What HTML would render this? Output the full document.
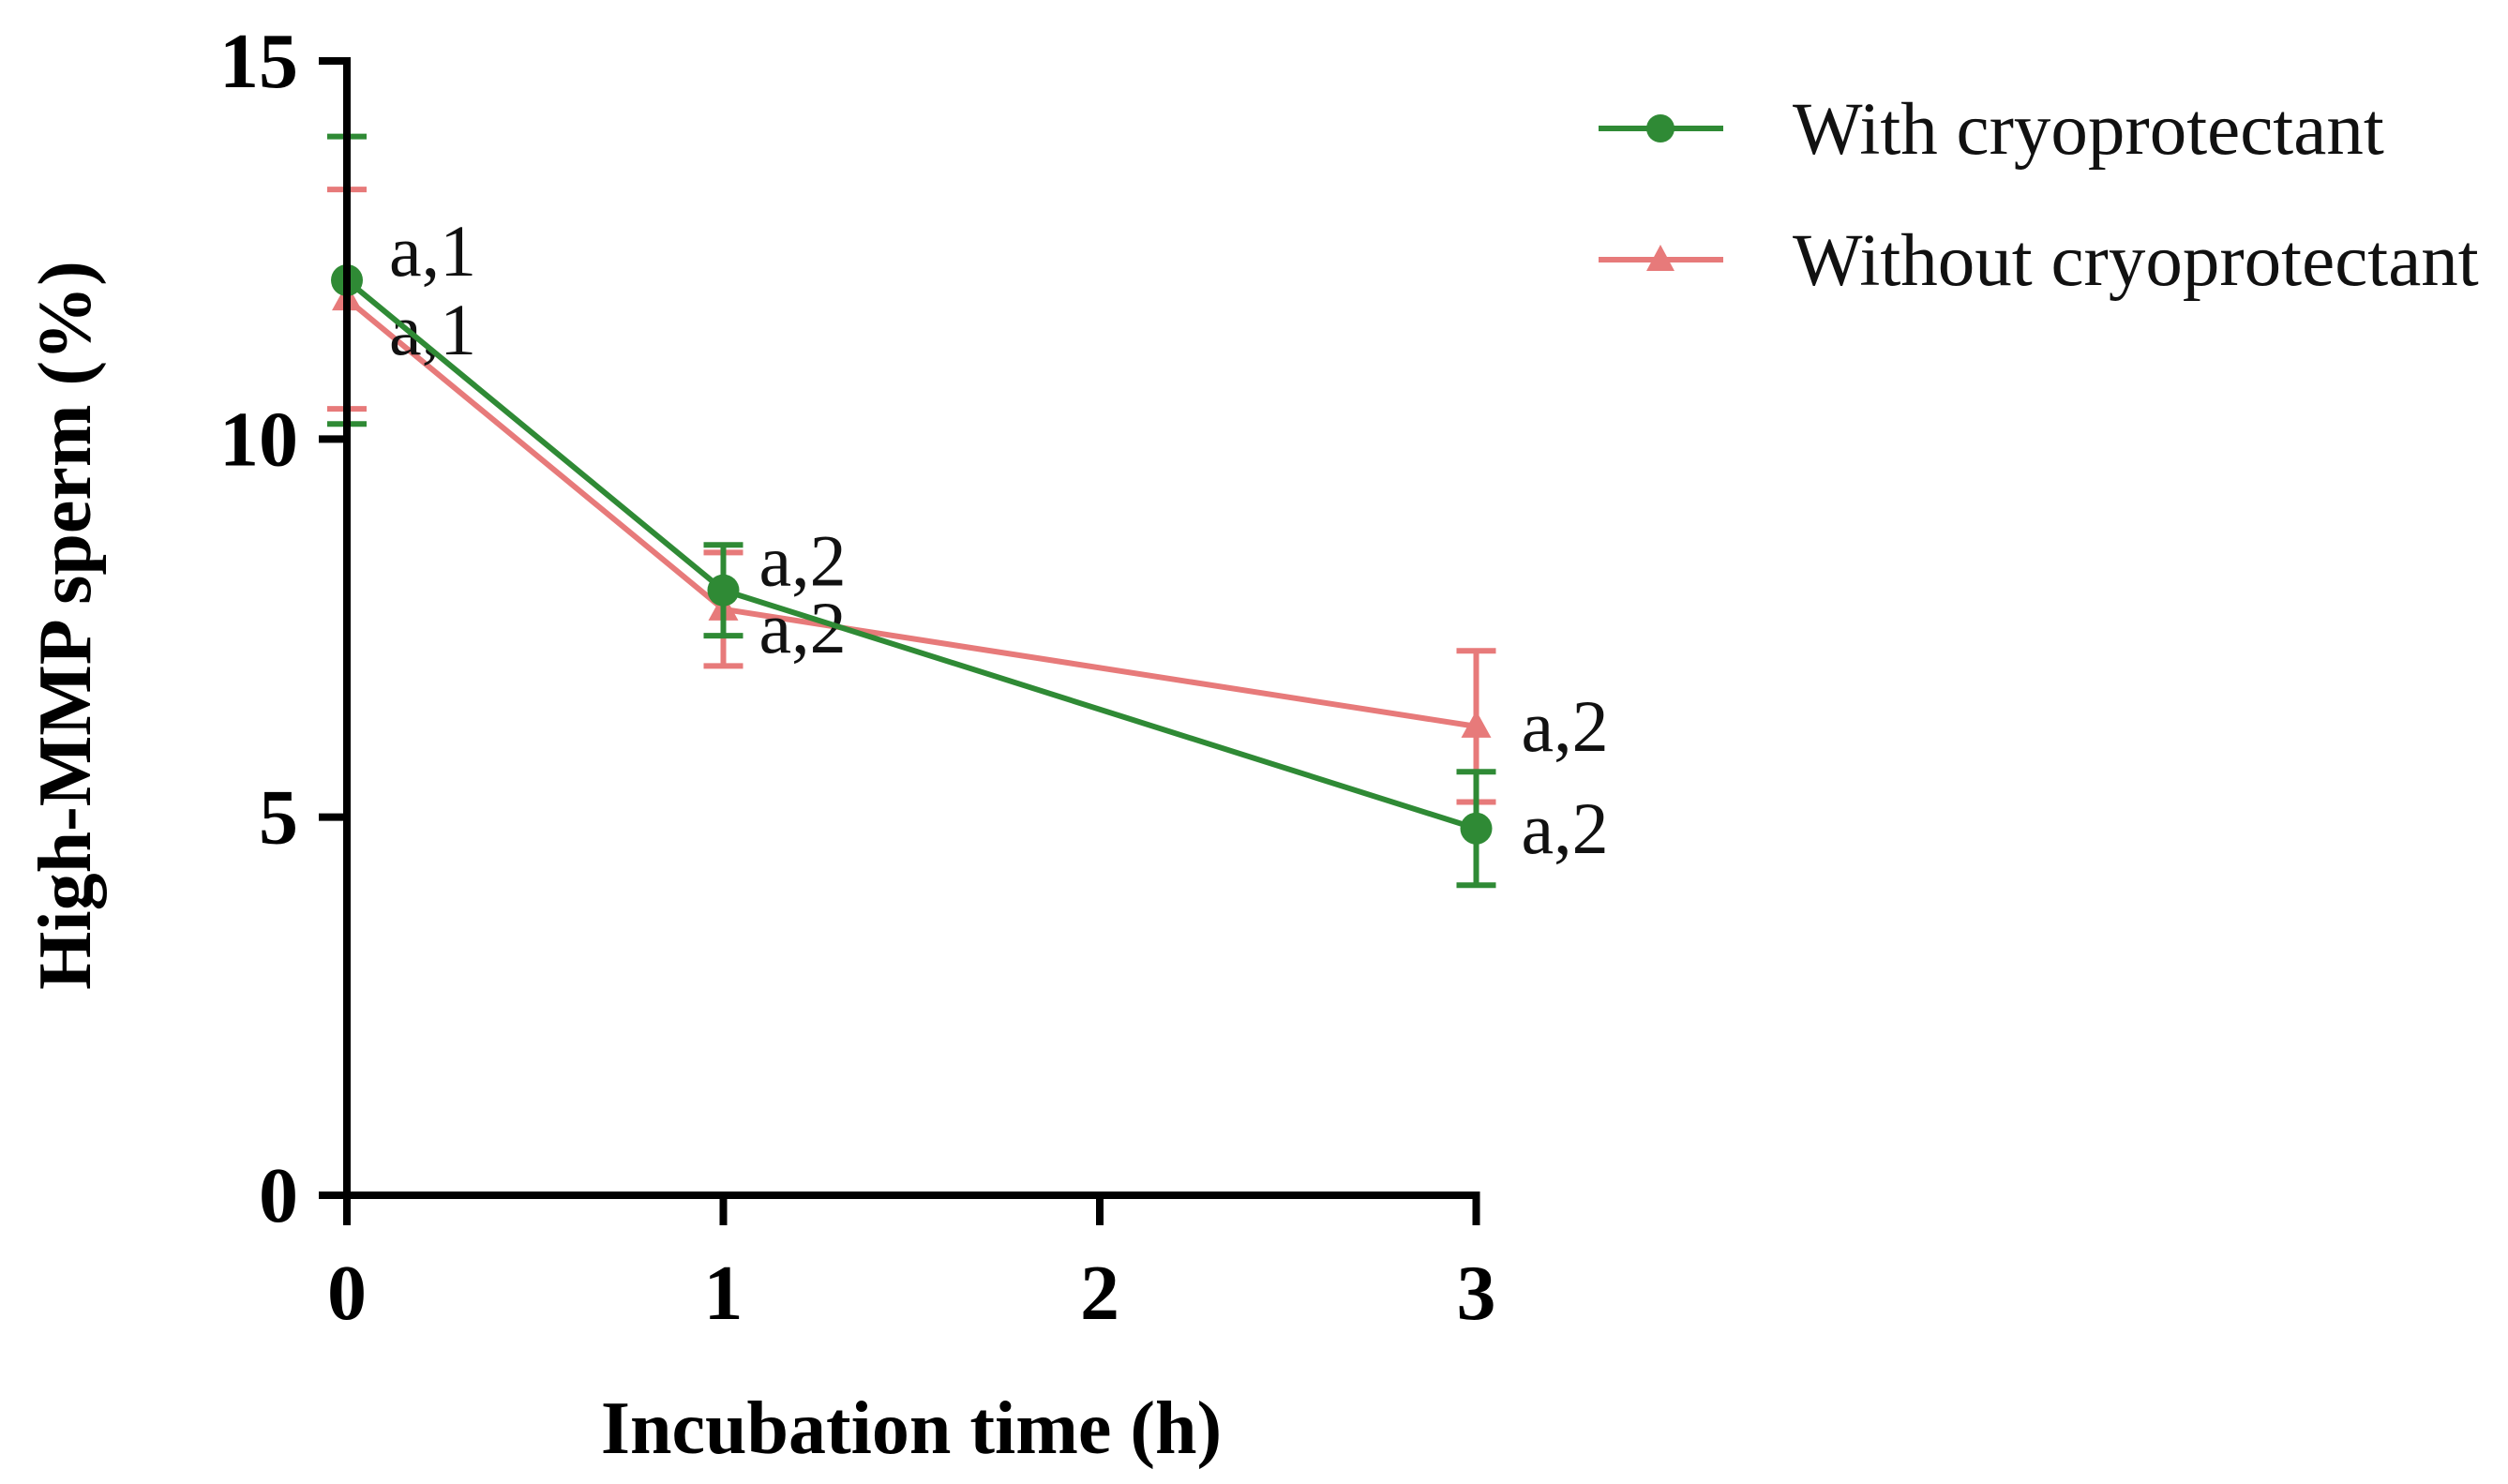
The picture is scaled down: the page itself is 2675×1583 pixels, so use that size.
<!DOCTYPE html>
<html><head><meta charset="utf-8"><style>
html,body{margin:0;padding:0;background:#fff;}
svg{display:block;}
text{font-family:"Liberation Serif",serif;}
</style></head><body>
<svg id="chart" width="2675" height="1583" viewBox="0 0 2675 1583" xmlns="http://www.w3.org/2000/svg">
<g id="plot"></g>
<g id="legend"></g>
</svg>
<script>
const categories = [0, 1, 3];
const xTicks = [0, 1, 2, 3];
const yTicks = [0, 5, 10, 15];
const withMean = [12.1, 8.0, 4.85];
const withLow = [10.2, 7.4, 4.1];
const withHigh = [14.0, 8.6, 5.6];
const withoutMean = [11.85, 7.75, 6.2];
const withoutLow = [10.4, 7.0, 5.2];
const withoutHigh = [13.3, 8.5, 7.2];
const withLabels = ["a,1", "a,2", "a,2"];
const withoutLabels = ["a,1", "a,2", "a,2"];

const NS = "http://www.w3.org/2000/svg";
const X0 = 370, XU = 401.5, Y0 = 1275, YT = 65;
const xs = v => X0 + v * XU;
const ys = v => Y0 - v * (Y0 - YT) / 15;
const plot = document.getElementById('plot');
const legend = document.getElementById('legend');
function mk(tag, attrs, parent) {
  const e = document.createElementNS(NS, tag);
  for (const k in attrs) e.setAttribute(k, attrs[k]);
  parent.appendChild(e);
  return e;
}
const GREEN = "#2f8a35", RED = "#e77a7a";

function drawSeries(mean, lo, hi, color, marker, name, labels, dy) {
  const g = mk('g', {}, plot);
  
  
  const pts = categories.map((c, i) => xs(c) + ',' + ys(mean[i])).join(' ');
  const line = mk('polyline', {points: pts, fill: 'none', stroke: color, 'stroke-width': 6}, g);
  
  
  categories.forEach((c, i) => {
    const x = xs(c);
    const eb = mk('path', {d: `M${x},${ys(lo[i])}V${ys(hi[i])}M${x-21},${ys(lo[i])}h42M${x-21},${ys(hi[i])}h42`, stroke: color, 'stroke-width': 6, fill: 'none'}, g);
    
    
    let m;
    const y = ys(mean[i]);
    if (marker === 'circle') m = mk('circle', {cx: x, cy: y, r: 17, fill: color}, g);
    else m = mk('path', {d: `M${x},${y-17}L${x+16},${y+12}L${x-16},${y+12}Z`, fill: color}, g);
    
    
    const off = c === 0 ? 45 : (c === 1 ? 38 : 48);
    const t = mk('text', {x: x + off, y: y + dy[i] + 26, 'font-size': 78, fill: '#111'}, plot);
    t.textContent = labels[i];
    
    
  });
}
drawSeries(withoutMean, withoutLow, withoutHigh, RED, 'triangle', 'without-cryoprotectant', withoutLabels, [33, 20, 0]);
drawSeries(withMean, withLow, withHigh, GREEN, 'circle', 'with-cryoprotectant', withLabels, [-31, -31, 0]);

const ax = mk('path', {d: `M${X0},${YT-4}V${Y0}H${xs(3)+4}`, stroke: '#000', 'stroke-width': 8, fill: 'none'}, plot);


yTicks.forEach(v => {
  const y = ys(v);
  const tk = mk('line', {x1: X0 - 30, x2: X0, y1: y, y2: y, stroke: '#000', 'stroke-width': 8}, plot);
  
  
  const t = mk('text', {x: X0 - 52, y: y + 28, 'font-size': 84, 'font-weight': 'bold', 'text-anchor': 'end'}, plot);
  t.textContent = v;
  
  
});
xTicks.forEach(v => {
  const x = xs(v);
  const tk = mk('line', {x1: x, x2: x, y1: Y0, y2: Y0 + 32, stroke: '#000', 'stroke-width': 8}, plot);
  
  
  const t = mk('text', {x: x, y: Y0 + 132, 'font-size': 84, 'font-weight': 'bold', 'text-anchor': 'middle'}, plot);
  t.textContent = v;
  
  
});
const xt = mk('text', {x: 972, y: 1550, 'font-size': 80, 'font-weight': 'bold', 'text-anchor': 'middle'}, plot);
xt.textContent = 'Incubation time (h)';


const yt = mk('text', {x: 0, y: 0, 'font-size': 80, 'font-weight': 'bold', 'text-anchor': 'middle', transform: 'translate(96,667) rotate(-90)'}, plot);
yt.textContent = 'High-MMP sperm (%)';



[[GREEN, 'circle', 'With cryoprotectant', 137], [RED, 'triangle', 'Without cryoprotectant', 277]].forEach(([c, m, label, y]) => {
  const g = mk('g', {}, legend);
  
  
  mk('line', {x1: 1705, x2: 1838, y1: y, y2: y, stroke: c, 'stroke-width': 6}, g);
  if (m === 'circle') mk('circle', {cx: 1771, cy: y, r: 15, fill: c}, g);
  else mk('path', {d: `M1771,${y-16}L1786,${y+12}L1756,${y+12}Z`, fill: c}, g);
  const t = mk('text', {x: 1912, y: y + 27, 'font-size': 79, fill: '#111'}, g);
  t.textContent = label;
});
</script>
</body></html>
